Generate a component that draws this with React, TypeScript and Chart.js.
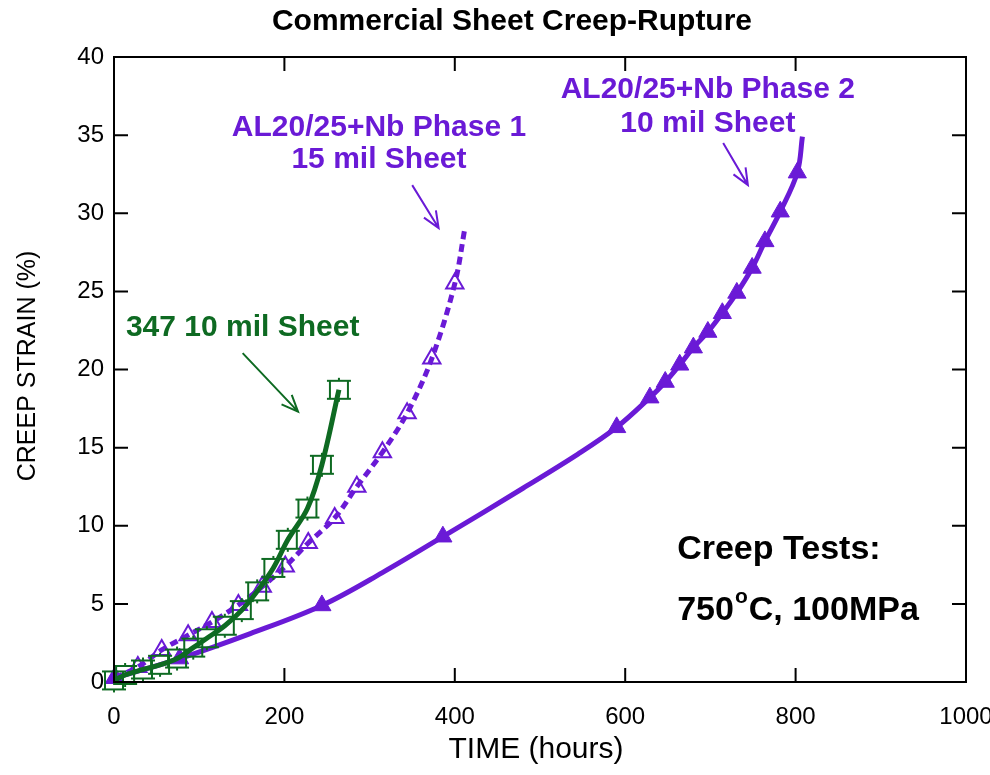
import React, { useEffect, useRef } from "react";
import { Chart, registerables } from "chart.js";

Chart.register(...registerables);

const FONT = '"Liberation Sans", Arial, Helvetica, sans-serif';
const GREEN = "#0e6a22";
const PURPLE = "#6a1ad6";

// Axis ticks
const hourTicks = [0, 200, 400, 600, 800, 1000];
const strainTicks = [0, 5, 10, 15, 20, 25, 30, 35, 40];

// 347 stainless, 10 mil sheet
const sheet347Hours = [0, 13, 34, 54, 74, 93, 109, 130, 150, 168, 187, 204, 227, 244, 264];
const sheet347Strain = [0.1, 0.45, 0.8, 1.1, 1.5, 2.2, 2.8, 3.6, 4.6, 5.8, 7.3, 9.1, 11.1, 13.9, 18.7];

// AL20/25+Nb Phase 1, 15 mil sheet (open triangles, dashed curve)
const phase1Hours = [1, 28, 56, 87, 115, 146, 174, 201, 228, 259, 285, 315, 344, 373, 400];
const phase1Strain = [0.26, 0.96, 2.05, 3.0, 3.84, 4.93, 6.1, 7.4, 8.9, 10.5, 12.5, 14.7, 17.2, 20.7, 25.5];
const phase1RuptureHours = [412];
const phase1RuptureStrain = [29.1];

// AL20/25+Nb Phase 2, 10 mil sheet (filled triangles, solid curve)
const phase2Hours = [1, 77, 244, 386, 590, 629, 647, 664, 680, 697, 714, 731, 749, 764, 782, 802];
const phase2Strain = [0.26, 1.5, 4.9, 9.3, 16.3, 18.2, 19.2, 20.3, 21.4, 22.4, 23.6, 24.9, 26.5, 28.2, 30.1, 32.6];
// extra readings along the recorded curve between markers, and the rupture point
const phase2CurveHours = [160, 315, 480, 545, 808];
const phase2CurveStrain = [3.1, 7.0, 12.4, 14.6, 34.9];

type Pt = { x: number; y: number };
const pts = (xs: number[], ys: number[]): Pt[] => xs.map((x, i) => ({ x, y: ys[i] }));
const byHours = (a: Pt[]) => a.slice().sort((p, q) => p.x - q.x);

// Text labels anchored in data coordinates (hours, strain)
const labels = [
  { text: "347 10 mil Sheet", color: GREEN, h: 151, s: 22.66, size: 30 },
  { text: "AL20/25+Nb Phase 1", color: PURPLE, h: 311, s: 35.5, size: 30 },
  { text: "15 mil Sheet", color: PURPLE, h: 311, s: 33.4, size: 30 },
  { text: "AL20/25+Nb Phase 2", color: PURPLE, h: 697, s: 37.9, size: 30 },
  { text: "10 mil Sheet", color: PURPLE, h: 697, s: 35.7, size: 30 },
];

// Arrows: [hours, strain] at tail and head
const arrows = [
  { color: GREEN, from: [151, 21.05], to: [216, 17.3] },
  { color: PURPLE, from: [350, 31.8], to: [381, 29.05] },
  { color: PURPLE, from: [715, 34.5], to: [744, 31.8] },
];

function squareMarker(): HTMLCanvasElement {
  const c = document.createElement("canvas");
  c.width = 26;
  c.height = 26;
  const g = c.getContext("2d")!;
  g.strokeStyle = GREEN;
  g.lineWidth = 2;
  g.strokeRect(4, 4, 18, 18);
  g.beginPath();
  g.moveTo(1, 4);
  g.lineTo(25, 4);
  g.moveTo(1, 22);
  g.lineTo(25, 22);
  g.moveTo(13, 1);
  g.lineTo(13, 4);
  g.moveTo(13, 22);
  g.lineTo(13, 25);
  g.stroke();
  return c;
}

const overlay = {
  id: "overlay",
  afterDraw(chart: any) {
    const { ctx, chartArea, scales } = chart;
    const { left, right, top, bottom } = chartArea;
    const xs = scales.x;
    const ys = scales.y;
    ctx.save();

    // frame and inward ticks on all four sides
    ctx.strokeStyle = "#000";
    ctx.lineWidth = 2;
    ctx.strokeRect(left, top, right - left, bottom - top);
    ctx.beginPath();
    const tl = 14;
    hourTicks.forEach((v) => {
      const px = xs.getPixelForValue(v);
      ctx.moveTo(px, bottom);
      ctx.lineTo(px, bottom - tl);
      ctx.moveTo(px, top);
      ctx.lineTo(px, top + tl);
    });
    strainTicks.forEach((v) => {
      const py = ys.getPixelForValue(v);
      ctx.moveTo(left, py);
      ctx.lineTo(left + tl, py);
      ctx.moveTo(right, py);
      ctx.lineTo(right - tl, py);
    });
    ctx.stroke();

    // tick labels
    ctx.fillStyle = "#000";
    ctx.textBaseline = "middle";
    ctx.font = `24px ${FONT}`;
    ctx.textAlign = "center";
    hourTicks.forEach((v) => ctx.fillText(String(v), xs.getPixelForValue(v), bottom + 35));
    ctx.textAlign = "right";
    strainTicks.forEach((v) => ctx.fillText(String(v), left - 10, ys.getPixelForValue(v)));

    // title
    ctx.textAlign = "center";
    ctx.font = `bold 30px ${FONT}`;
    ctx.fillText("Commercial Sheet Creep-Rupture", 512, 22);

    // axis titles
    ctx.font = `30px ${FONT}`;
    ctx.fillText("TIME (hours)", (left + right) / 2 - 4, 750);
    ctx.save();
    ctx.translate(28, 366);
    ctx.rotate(-Math.PI / 2);
    ctx.font = `25px ${FONT}`;
    ctx.fillText("CREEP STRAIN (%)", 0, 0);
    ctx.restore();

    // series labels
    labels.forEach((l) => {
      ctx.font = `bold ${l.size}px ${FONT}`;
      ctx.fillStyle = l.color;
      ctx.textAlign = "center";
      ctx.fillText(l.text, xs.getPixelForValue(l.h), ys.getPixelForValue(l.s));
    });

    // test conditions
    {
      let px = xs.getPixelForValue(661);
      ctx.fillStyle = "#000";
      ctx.textAlign = "left";
      ctx.font = `bold 34px ${FONT}`;
      ctx.fillText("Creep Tests:", px, ys.getPixelForValue(8.5));
      const py = ys.getPixelForValue(4.6);
      ctx.fillText("750", px, py);
      px += ctx.measureText("750").width + 1;
      ctx.font = `bold 21px ${FONT}`;
      ctx.fillText("o", px, py - 13);
      px += ctx.measureText("o").width + 1;
      ctx.font = `bold 34px ${FONT}`;
      ctx.fillText("C, 100MPa", px, py);
    }

    // arrows
    arrows.forEach((a) => {
      const x1 = xs.getPixelForValue(a.from[0]);
      const y1 = ys.getPixelForValue(a.from[1]);
      const x2 = xs.getPixelForValue(a.to[0]);
      const y2 = ys.getPixelForValue(a.to[1]);
      const ang = Math.atan2(y2 - y1, x2 - x1);
      const hl = 18;
      const spread = 0.4;
      ctx.strokeStyle = a.color;
      ctx.lineWidth = 2;
      ctx.beginPath();
      ctx.moveTo(x1, y1);
      ctx.lineTo(x2, y2);
      ctx.moveTo(x2 - hl * Math.cos(ang - spread), y2 - hl * Math.sin(ang - spread));
      ctx.lineTo(x2, y2);
      ctx.lineTo(x2 - hl * Math.cos(ang + spread), y2 - hl * Math.sin(ang + spread));
      ctx.stroke();
    });

    ctx.restore();
  },
};

export default function App() {
  const ref = useRef<HTMLCanvasElement | null>(null);

  useEffect(() => {
    if (!ref.current) return;
    const square = squareMarker();

    const line347 = pts(sheet347Hours, sheet347Strain);
    const line1 = pts(phase1Hours, phase1Strain).concat(pts(phase1RuptureHours, phase1RuptureStrain));
    const line2 = byHours(pts(phase2Hours, phase2Strain).concat(pts(phase2CurveHours, phase2CurveStrain)));

    const chart = new Chart(ref.current, {
      type: "scatter",
      data: {
        datasets: [
          {
            label: "Phase 2 curve",
            data: line2,
            showLine: true,
            borderColor: PURPLE,
            borderWidth: 5,
            pointRadius: 0,
            tension: 0.35,
            order: 6,
          },
          {
            label: "Phase 2",
            data: pts(phase2Hours, phase2Strain),
            pointStyle: "triangle",
            pointRadius: 10.5,
            backgroundColor: PURPLE,
            borderColor: PURPLE,
            borderWidth: 1,
            clip: false,
            order: 5,
          },
          {
            label: "Phase 1 curve",
            data: line1,
            showLine: true,
            borderColor: PURPLE,
            borderWidth: 5,
            borderDash: [8, 5],
            pointRadius: 0,
            tension: 0.35,
            order: 4,
          },
          {
            label: "Phase 1",
            data: pts(phase1Hours, phase1Strain),
            pointStyle: "triangle",
            pointRadius: 10,
            backgroundColor: "rgba(0,0,0,0)",
            borderColor: PURPLE,
            borderWidth: 2,
            clip: false,
            order: 3,
          },
          {
            label: "347",
            data: pts(sheet347Hours, sheet347Strain),
            pointStyle: square as any,
            clip: false,
            order: 2,
          },
          {
            label: "347 curve",
            data: line347,
            showLine: true,
            borderColor: GREEN,
            borderWidth: 5,
            pointRadius: 0,
            tension: 0.35,
            order: 1,
          },
        ],
      },
      options: {
        animation: false,
        responsive: false,
        events: [],
        layout: { padding: { top: 57, right: 24, left: 0, bottom: 0 } },
        plugins: { legend: { display: false }, tooltip: { enabled: false }, title: { display: false } },
        scales: {
          x: {
            type: "linear",
            min: 0,
            max: 1000,
            afterFit: (s: any) => {
              s.height = 93;
            },
            ticks: { display: false },
            grid: { display: false, drawTicks: false },
            border: { display: false },
          },
          y: {
            type: "linear",
            min: 0,
            max: 40,
            afterFit: (s: any) => {
              s.width = 114;
            },
            ticks: { display: false },
            grid: { display: false, drawTicks: false },
            border: { display: false },
          },
        },
      },
      plugins: [overlay],
    });
    return () => chart.destroy();
  }, []);

  return (
    <div style={{ position: "fixed", left: 0, top: 0, width: 990, height: 775, background: "#fff" }}>
      <canvas ref={ref} width={990} height={775} style={{ width: 990, height: 775 }} />
    </div>
  );
}
